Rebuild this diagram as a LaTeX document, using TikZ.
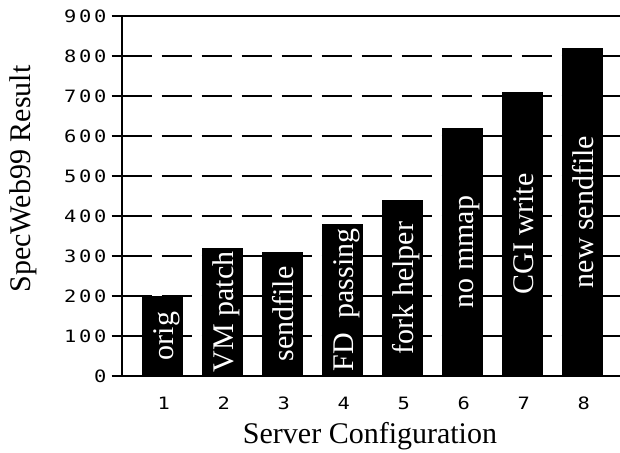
\documentclass[tikz,border=0pt]{standalone}
\usepackage{fontspec}
\setmainfont{Liberation Serif}
\newfontfamily\tickfont[FakeStretch=1.2,LetterSpace=16]{DejaVu Sans Mono}
\begin{document}
\begin{tikzpicture}[x=1pt,y=1pt,
  gridl/.style={line width=2pt, dash pattern=on 30pt off 10pt},
  axisl/.style={line width=2pt},
  barbox/.style={fill=black},
  barlabel/.style={text=white, rotate=90, anchor=base, inner sep=0pt, font=\fontsize{30}{36}\selectfont},
  ticklab/.style={anchor=east, inner sep=0pt, font=\tickfont\fontsize{17}{20}\selectfont},
  xnum/.style={anchor=center, inner sep=0pt, font=\tickfont\fontsize{17}{20}\selectfont},
  axtitle/.style={anchor=base, inner sep=0pt, font=\fontsize{30}{36}\selectfont}]
\useasboundingbox (0,0) rectangle (620,452);
% gridlines
\foreach \v in {1,...,8} {
  \draw[gridl] (121.7,76+40*\v) -- (620,76+40*\v);
}
% ticks and labels
\foreach \v/\l in {0/0,1/100,2/200,3/300,4/400,5/500,6/600,7/700,8/800,9/900} {
  \draw[axisl] (111.7,76+40*\v) -- (121.7,76+40*\v);
  \node[ticklab] (tl\v) at (106.5,76+40*\v) {\l};
}
% axes
\coordinate (O) at (121.7,76);
\coordinate (T) at (121.7,436);
\coordinate (R0) at (620,76);
\coordinate (R9) at (620,436);
\draw[axisl] (O) -- (R0);
\draw[axisl] (T) -- (R9);
\draw[axisl, line cap=rect] (O) -- (T);
% bars
\foreach \i/\h/\t in {1/200/orig,2/320/VM patch,3/310/sendfile,4/380/{FD\ \ passing},5/440/fork helper,6/620/no mmap,7/710/CGI write,8/820/new sendfile} {
  \pgfmathsetmacro\xl{141.7+60*(\i-1)}
  \pgfmathsetmacro\yt{76+0.4*\h}
  \pgfmathsetmacro\yc{76+0.2*\h}
  \fill[barbox] (\xl,76) rectangle (\xl+41.3,\yt);
  \node[barlabel] (bl\i) at (\xl+20.65+11,\yc) {\t};
  \node[xnum] (xn\i) at (\xl+20.65+1.3,49) {\i};
}
% axis titles
\node[axtitle] (xt) at (370,8.7) {Server Configuration};
\node[axtitle, rotate=90] (yt) at (30,273) {SpecWeb99 Result};
\end{tikzpicture}
\end{document}
